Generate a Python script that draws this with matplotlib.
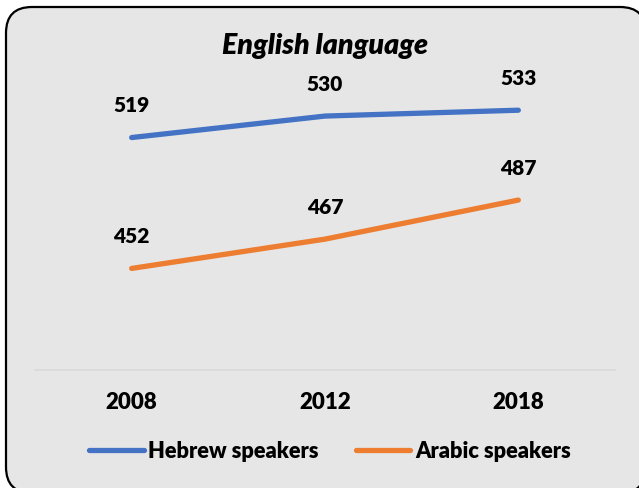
import matplotlib.pyplot as plt
from matplotlib.patches import FancyBboxPatch

years = ['2008', '2012', '2018']
hebrew = [519, 530, 533]
arabic = [452, 467, 487]

bg = '#e6e6e6'
plt.rcParams['font.family'] = ['Lato', 'DejaVu Sans']
wt = 'heavy'

fig = plt.figure(figsize=(6.39, 4.88), dpi=100)
fig.patch.set_facecolor('white')

# rounded frame behind everything (inches)
frame = FancyBboxPatch((0.06, -0.05), 6.40, 4.86,
                       boxstyle='round,pad=0,rounding_size=0.26',
                       transform=fig.dpi_scale_trans, facecolor=bg,
                       edgecolor='black', linewidth=1.6, zorder=-10)
fig.patches.append(frame)

ax = fig.add_axes([35 / 639, 118 / 488, 580 / 639, 293 / 488])
ax.set_facecolor('none')
x = range(len(years))
ax.plot(x, hebrew, color='#4472C4', lw=3.8, solid_capstyle='round', label='Hebrew speakers')
ax.plot(x, arabic, color='#ED7D31', lw=3.8, solid_capstyle='round', label='Arabic speakers')

for xs, series in [(x, hebrew), (x, arabic)]:
    for xi, v in zip(xs, series):
        ax.annotate(str(v), (xi, v), xytext=(0, 23), textcoords='offset points',
                    ha='center', va='center', fontsize=15, fontweight=wt)

ax.set_xlim(-0.5, 2.5)
ax.set_ylim(400, 550)
ax.set_xticks(list(x))
ax.set_xticklabels(years, fontsize=16, fontweight=wt)
ax.tick_params(axis='x', length=0, pad=16)
ax.set_yticks([])
for side in ['left', 'right', 'top']:
    ax.spines[side].set_visible(False)
ax.spines['bottom'].set_color('#d9d9d9')
ax.spines['bottom'].set_linewidth(1.2)

fig.text(325 / 639, 1 - 46 / 488, 'English language', ha='center', va='center',
         fontsize=20.5, fontweight=wt, fontstyle='italic')

fig.legend(loc='center', bbox_to_anchor=(330 / 639, 37 / 488), ncol=2,
           frameon=False, handlelength=2.5, handletextpad=0.2, columnspacing=1.7,
           prop={'size': 15.7, 'weight': wt})

fig.savefig('out.png', dpi=100, facecolor='white')
